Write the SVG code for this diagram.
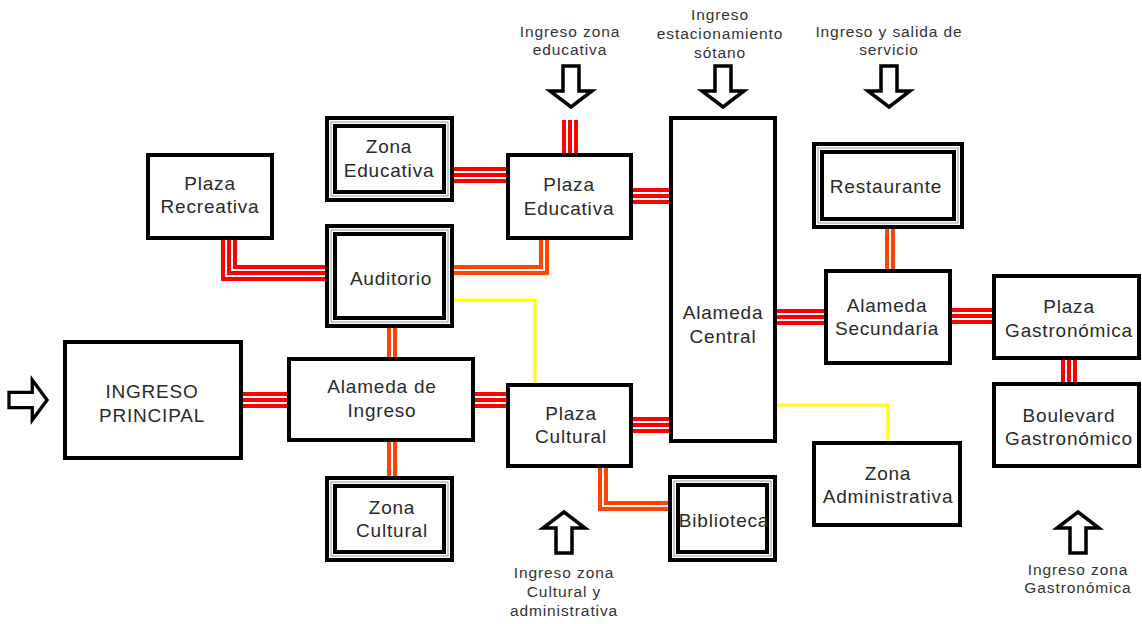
<svg xmlns="http://www.w3.org/2000/svg" xmlns:xlink="http://www.w3.org/1999/xlink" width="1142" height="624" viewBox="0 0 1142 624">
<style>
.box{fill:#fff;stroke:#000;stroke-width:4}
.gap{fill:none;stroke:#999;stroke-width:1}
.inner{fill:none;stroke:#000;stroke-width:4}
.lbl{font-family:"Liberation Sans",Arial,sans-serif;font-size:19px;letter-spacing:0.8px;fill:#2a2a2a;text-anchor:middle}
.note{font-family:"Liberation Sans",Arial,sans-serif;font-size:15.5px;letter-spacing:0.9px;fill:#333;text-anchor:middle}
.ta{fill:none;stroke:#ff0000;stroke-width:16}
.tb{fill:none;stroke:#ffffff;stroke-width:8}
.tc{fill:none;stroke:#ff0000;stroke-width:4}
.da{fill:none;stroke:#ff4400;stroke-width:10}
.db{fill:none;stroke:#ffffff;stroke-width:2}
.yl{fill:none;stroke:#ffff00;stroke-width:3}
.arr{fill:#fff;stroke:#000;stroke-width:3.5;stroke-linejoin:miter}
</style>
<defs>
<path id="arrow" d="M-8,0 H8 V25 H21 L0,41 L-21,25 H-8 Z"/>
</defs>
<rect width="1142" height="624" fill="#fff"/>
<g id="connectors">
<g><path class="ta" d="M241,400 H289"/><path class="tb" d="M241,400 H289"/><path class="tc" d="M241,400 H289"/></g>
<g><path class="ta" d="M473,400 H508"/><path class="tb" d="M473,400 H508"/><path class="tc" d="M473,400 H508"/></g>
<g><path class="ta" d="M631,425 H671"/><path class="tb" d="M631,425 H671"/><path class="tc" d="M631,425 H671"/></g>
<g><path class="ta" d="M452,175 H508"/><path class="tb" d="M452,175 H508"/><path class="tc" d="M452,175 H508"/></g>
<g><path class="ta" d="M631,196 H671"/><path class="tb" d="M631,196 H671"/><path class="tc" d="M631,196 H671"/></g>
<g><path class="ta" d="M570,120 V155"/><path class="tb" d="M570,120 V155"/><path class="tc" d="M570,120 V155"/></g>
<g><path class="ta" d="M229,238 V273 H327"/><path class="tb" d="M229,238 V273 H327"/><path class="tc" d="M229,238 V273 H327"/></g>
<g><path class="ta" d="M775,317 H826"/><path class="tb" d="M775,317 H826"/><path class="tc" d="M775,317 H826"/></g>
<g><path class="ta" d="M950,316 H994"/><path class="tb" d="M950,316 H994"/><path class="tc" d="M950,316 H994"/></g>
<g><path class="ta" d="M1069,358 V384"/><path class="tb" d="M1069,358 V384"/><path class="tc" d="M1069,358 V384"/></g>
<g><path class="da" d="M452,270 H544 V238"/><path class="db" d="M452,270 H544 V238"/></g>
<g><path class="da" d="M392,326 V359"/><path class="db" d="M392,326 V359"/></g>
<g><path class="da" d="M392,440 V478"/><path class="db" d="M392,440 V478"/></g>
<g><path class="da" d="M603,466 V506 H670"/><path class="db" d="M603,466 V506 H670"/></g>
<g><path class="da" d="M890,227 V271"/><path class="db" d="M890,227 V271"/></g>
<path class="yl" d="M452,300 H535 V385"/>
<path class="yl" d="M775,405 H888 V443"/>
</g>
<g id="ingreso-principal"><rect class="box" x="65" y="342" width="176" height="116"/><text class="lbl" x="152" y="398">INGRESO</text><text class="lbl" x="152" y="422">PRINCIPAL</text></g>
<g id="alameda-ingreso"><rect class="box" x="289" y="359" width="184" height="81"/><text class="lbl" x="382" y="393">Alameda de</text><text class="lbl" x="382" y="417">Ingreso</text></g>
<g id="plaza-recreativa"><rect class="box" x="148" y="155" width="124" height="83"/><text class="lbl" x="210" y="190">Plaza</text><text class="lbl" x="210" y="213">Recreativa</text></g>
<g id="zona-educativa"><rect class="box" x="327" y="118" width="125" height="82"/><rect class="gap" x="331" y="122" width="117" height="74"/><rect class="inner" x="335" y="126" width="109" height="66"/><text class="lbl" x="389" y="153">Zona</text><text class="lbl" x="389" y="177">Educativa</text></g>
<g id="auditorio"><rect class="box" x="327" y="226" width="125" height="100"/><rect class="gap" x="331" y="230" width="117" height="92"/><rect class="inner" x="335" y="234" width="109" height="84"/><text class="lbl" x="391" y="285">Auditorio</text></g>
<g id="zona-cultural"><rect class="box" x="327" y="478" width="125" height="82"/><rect class="gap" x="331" y="482" width="117" height="74"/><rect class="inner" x="335" y="486" width="109" height="66"/><text class="lbl" x="392" y="514">Zona</text><text class="lbl" x="392" y="537">Cultural</text></g>
<g id="plaza-educativa"><rect class="box" x="508" y="155" width="123" height="83"/><text class="lbl" x="569" y="191">Plaza</text><text class="lbl" x="569" y="215">Educativa</text></g>
<g id="plaza-cultural"><rect class="box" x="508" y="385" width="123" height="81"/><text class="lbl" x="571" y="420">Plaza</text><text class="lbl" x="571" y="443">Cultural</text></g>
<g id="alameda-central"><rect class="box" x="671" y="118" width="104" height="323"/><text class="lbl" x="723" y="319">Alameda</text><text class="lbl" x="723" y="343">Central</text></g>
<g id="biblioteca"><rect class="box" x="670" y="477" width="105" height="83"/><rect class="gap" x="674" y="481" width="97" height="75"/><rect class="inner" x="678" y="485" width="89" height="67"/><text class="lbl" x="724" y="527">Biblioteca</text></g>
<g id="restaurante"><rect class="box" x="814" y="144" width="148" height="83"/><rect class="gap" x="818" y="148" width="140" height="75"/><rect class="inner" x="822" y="152" width="132" height="67"/><text class="lbl" x="886" y="193">Restaurante</text></g>
<g id="alameda-secundaria"><rect class="box" x="826" y="271" width="124" height="92"/><text class="lbl" x="887" y="312">Alameda</text><text class="lbl" x="887" y="335">Secundaria</text></g>
<g id="plaza-gastronomica"><rect class="box" x="994" y="276" width="145" height="82"/><text class="lbl" x="1069" y="313">Plaza</text><text class="lbl" x="1069" y="337">Gastronómica</text></g>
<g id="boulevard-gastronomico"><rect class="box" x="994" y="384" width="145" height="82"/><text class="lbl" x="1069" y="422">Boulevard</text><text class="lbl" x="1069" y="445">Gastronómico</text></g>
<g id="zona-administrativa"><rect class="box" x="814" y="443" width="146" height="82"/><text class="lbl" x="888" y="480">Zona</text><text class="lbl" x="888" y="503">Administrativa</text></g>
<g id="entradas">
<use href="#arrow" class="arr" transform="translate(9,400) rotate(-90) scale(0.95,0.93)"/>
<use href="#arrow" class="arr" transform="translate(571,66)"/>
<use href="#arrow" class="arr" transform="translate(723,66)"/>
<use href="#arrow" class="arr" transform="translate(889,66)"/>
<use href="#arrow" class="arr" transform="translate(564,553) scale(1,-1)"/>
<use href="#arrow" class="arr" transform="translate(1078,553) scale(1,-1)"/>
<text class="note" x="570" y="37">Ingreso zona</text><text class="note" x="570" y="55">educativa</text>
<text class="note" x="720" y="20">Ingreso</text><text class="note" x="720" y="39">estacionamiento</text><text class="note" x="720" y="58">sótano</text>
<text class="note" x="889" y="37">Ingreso y salida de</text><text class="note" x="889" y="55">servicio</text>
<text class="note" x="564" y="578">Ingreso zona</text><text class="note" x="564" y="597">Cultural y</text><text class="note" x="564" y="616">administrativa</text>
<text class="note" x="1078" y="575">Ingreso zona</text><text class="note" x="1078" y="593">Gastronómica</text>
</g>
</svg>
